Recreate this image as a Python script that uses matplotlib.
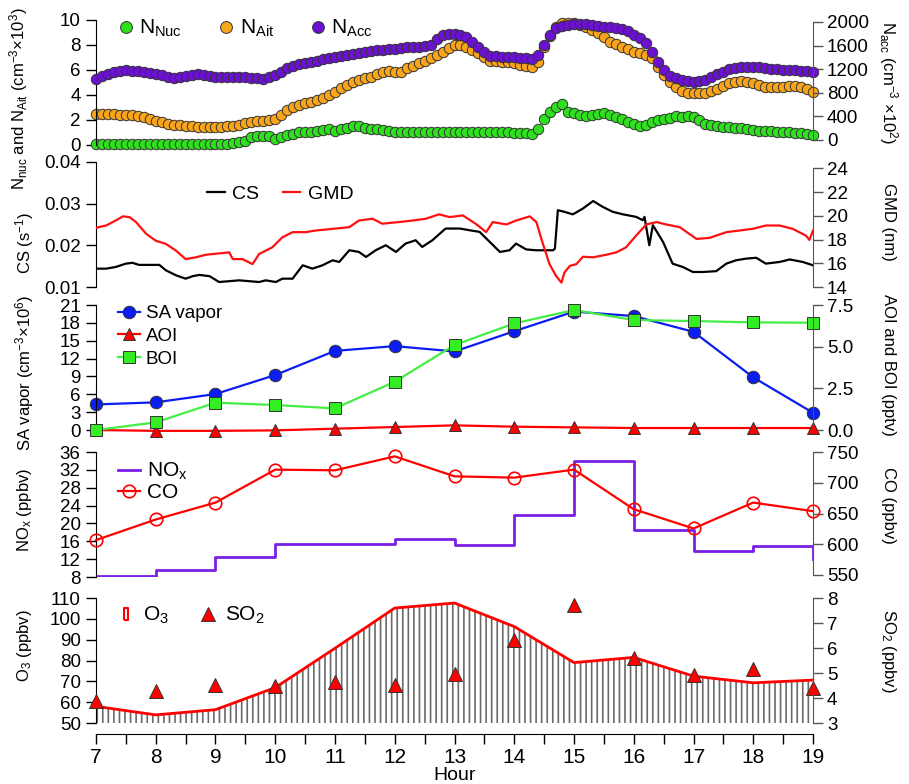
import numpy as np
import matplotlib
matplotlib.use('Agg')
import matplotlib.pyplot as plt
from matplotlib.lines import Line2D
from matplotlib.ticker import FormatStrFormatter, MultipleLocator

plt.rcParams['font.family'] = ['Liberation Sans', 'DejaVu Sans']
plt.rcParams['mathtext.default'] = 'regular'
plt.rcParams['hatch.linewidth'] = 1.2

# ---- panel 1: number concentrations, 6-min time base ----
hour_sd = np.arange(70, 191) / 10

n_nuc = [
    0.05, 0.05, 0.05, 0.05, 0.05, 0.05, 0.05, 0.05, 0.05, 0.05,
    0.05, 0.05, 0.05, 0.05, 0.05, 0.05, 0.06, 0.06, 0.06, 0.06,
    0.07, 0.08, 0.10, 0.13, 0.20, 0.35, 0.60, 0.70, 0.72, 0.70,
    0.50, 0.60, 0.80, 0.90, 1.00, 1.05, 1.05, 1.15, 1.20, 1.30,
    1.10, 1.25, 1.35, 1.50, 1.55, 1.35, 1.30, 1.30, 1.20, 1.10,
    1.05, 1.00, 1.00, 1.00, 1.05, 1.05, 1.05, 1.00, 1.00, 1.00,
    1.00, 1.00, 1.05, 1.05, 1.05, 1.00, 1.00, 1.00, 1.00, 1.00,
    0.95, 0.95, 0.93, 0.90, 1.30, 2.10, 2.65, 3.00, 3.25, 2.65,
    2.53, 2.40, 2.30, 2.40, 2.48, 2.53, 2.40, 2.27, 2.05, 1.87,
    1.68, 1.52, 1.60, 1.87, 2.00, 2.05, 2.13, 2.32, 2.21, 2.32,
    2.21, 2.00, 1.68, 1.60, 1.52, 1.47, 1.41, 1.39, 1.33, 1.28,
    1.20, 1.15, 1.12, 1.10, 1.07, 1.03, 1.00, 0.97, 0.93, 0.88,
    0.82]

n_ait = [
    2.48, 2.47, 2.45, 2.44, 2.42, 2.40, 2.38, 2.35, 2.25, 2.10,
    1.95, 1.80, 1.68, 1.62, 1.57, 1.52, 1.50, 1.47, 1.45, 1.43,
    1.41, 1.45, 1.50, 1.55, 1.62, 1.73, 1.80, 1.88, 1.95, 2.00,
    2.05, 2.40, 2.80, 3.00, 3.20, 3.32, 3.44, 3.58, 3.73, 4.00,
    4.27, 4.55, 4.80, 5.00, 5.20, 5.35, 5.47, 5.67, 5.87, 5.95,
    5.87, 5.87, 6.13, 6.33, 6.53, 6.73, 6.93, 7.20, 7.47, 7.75,
    8.00, 8.00, 7.87, 7.60, 7.33, 7.00, 6.75, 6.70, 6.67, 6.60,
    6.53, 6.42, 6.32, 6.27, 6.67, 7.87, 8.72, 9.47, 9.73, 9.73,
    9.73, 9.60, 9.47, 9.20, 8.93, 8.60, 8.27, 8.07, 7.87, 7.67,
    7.47, 7.33, 7.20, 6.93, 6.27, 5.60, 5.07, 4.61, 4.35, 4.19,
    4.13, 4.15, 4.19, 4.30, 4.45, 4.70, 4.93, 5.05, 5.15, 5.05,
    4.93, 4.80, 4.67, 4.63, 4.61, 4.66, 4.72, 4.68, 4.61, 4.45,
    4.27]

n_acc = [
    1034, 1079, 1124, 1158, 1172, 1181, 1176, 1164, 1150, 1135,
    1119, 1095, 1065, 1045, 1065, 1085, 1100, 1113, 1100, 1085,
    1074, 1070, 1068, 1065, 1062, 1062, 1058, 1050, 1040, 1060,
    1102, 1158, 1215, 1255, 1288, 1310, 1328, 1345, 1367, 1385,
    1401, 1420, 1441, 1460, 1480, 1495, 1509, 1518, 1526, 1537,
    1548, 1562, 1576, 1580, 1582, 1595, 1610, 1706, 1774, 1797,
    1791, 1780, 1740, 1667, 1582, 1497, 1424, 1418, 1413, 1407,
    1401, 1392, 1384, 1367, 1441, 1610, 1780, 1893, 1938, 1952,
    1961, 1961, 1961, 1948, 1932, 1920, 1910, 1893, 1876, 1853,
    1780, 1723, 1638, 1497, 1328, 1186, 1085, 1045, 1017, 1000,
    989, 995, 1017, 1065, 1119, 1160, 1198, 1225, 1243, 1245,
    1243, 1230, 1215, 1205, 1198, 1192, 1186, 1178, 1170, 1164,
    1158]

# ---- panel 2: condensation sink and GMD ----
cs_hour = [7.0, 7.17, 7.33, 7.5, 7.61, 7.72, 7.89, 8.06, 8.17, 8.34, 8.5, 8.62, 8.73, 8.9,
           9.06, 9.23, 9.4, 9.56, 9.73, 9.84, 10.01, 10.12, 10.29, 10.46, 10.62, 10.79,
           10.96, 11.07, 11.24, 11.4, 11.52, 11.68, 11.85, 12.02, 12.18, 12.35, 12.46,
           12.63, 12.85, 13.02, 13.09, 13.25, 13.42, 13.59, 13.76, 13.92, 14.03, 14.2,
           14.37, 14.48, 14.65, 14.68, 14.73, 14.84, 14.98, 15.15, 15.32, 15.48, 15.65,
           15.82, 16.04, 16.15, 16.18, 16.26, 16.32, 16.49, 16.65, 16.82, 16.99, 17.16,
           17.38, 17.55, 17.71, 17.88, 18.05, 18.21, 18.44, 18.61, 18.83, 19.0]
cs = [0.0144, 0.0144, 0.0148, 0.0156, 0.0158, 0.0153, 0.0153, 0.0153, 0.0140, 0.0128,
      0.0120, 0.0126, 0.0129, 0.0126, 0.0112, 0.0114, 0.0116, 0.0114, 0.0112, 0.0116,
      0.0112, 0.0120, 0.0120, 0.0152, 0.0144, 0.0152, 0.0164, 0.0160, 0.0188, 0.0184,
      0.0172, 0.0188, 0.0200, 0.0184, 0.0204, 0.0212, 0.0196, 0.0212, 0.0240, 0.0240,
      0.0240, 0.0236, 0.0232, 0.0208, 0.0184, 0.0188, 0.0204, 0.0190, 0.0188, 0.0188,
      0.0188, 0.0192, 0.0284, 0.0280, 0.0274, 0.0288, 0.0306, 0.0292, 0.0280, 0.0274,
      0.0268, 0.0260, 0.0268, 0.0200, 0.0248, 0.0208, 0.0156, 0.0148, 0.0136, 0.0136,
      0.0138, 0.0156, 0.0164, 0.0168, 0.0170, 0.0156, 0.0160, 0.0166, 0.0160, 0.0152]

gmd_hour = [7.0, 7.17, 7.33, 7.45, 7.56, 7.67, 7.84, 8.0, 8.17, 8.34, 8.5, 8.67, 8.84, 9.06,
            9.23, 9.29, 9.45, 9.62, 9.73, 9.84, 9.95, 10.12, 10.29, 10.51, 10.68, 10.96,
            11.24, 11.4, 11.63, 11.79, 12.07, 12.3, 12.52, 12.74, 12.92, 13.14, 13.37,
            13.53, 13.64, 13.87, 14.03, 14.26, 14.37, 14.48, 14.59, 14.7, 14.79, 14.84,
            14.93, 15.04, 15.15, 15.32, 15.54, 15.71, 15.87, 16.04, 16.21, 16.38, 16.54,
            16.77, 17.05, 17.27, 17.55, 17.77, 17.99, 18.21, 18.44, 18.66, 18.88, 18.94, 19.0]
gmd = [18.99, 19.18, 19.6, 19.95, 19.89, 19.47, 18.48, 17.9, 17.63, 17.06, 16.35, 16.5,
       16.72, 16.83, 16.92, 16.35, 16.35, 15.93, 16.78, 17.06, 17.34, 18.19, 18.62, 18.62,
       18.76, 18.9, 19.04, 19.6, 19.75, 19.33, 19.47, 19.6, 19.75, 20.12, 19.89, 20.03,
       19.27, 18.62, 19.47, 19.27, 19.6, 19.95, 19.47, 17.63, 15.93, 14.93, 14.37, 15.22,
       15.78, 15.93, 16.55, 16.5, 16.72, 16.92, 17.34, 18.33, 19.27, 19.47, 19.27, 19.04,
       18.05, 18.14, 18.62, 18.76, 18.9, 19.18, 19.18, 18.9, 18.33, 17.97, 18.76]

# ---- panels 3-5: hourly data ----
hours = [7, 8, 9, 10, 11, 12, 13, 14, 15, 16, 17, 18, 19]
sa_vapor = [4.3, 4.65, 6.05, 9.24, 13.3, 14.1, 13.2, 16.6, 19.9, 19.15, 16.5, 8.85, 2.9]
aoi = [0.0, -0.05, -0.05, -0.02, 0.08, 0.18, 0.28, 0.2, 0.16, 0.12, 0.12, 0.12, 0.12]
boi = [0.0, 0.46, 1.64, 1.5, 1.3, 2.9, 5.1, 6.4, 7.2, 6.6, 6.54, 6.46, 6.44]
nox = [8.2, 9.5, 12.5, 15.5, 15.3, 16.6, 15.1, 21.8, 34.0, 18.5, 13.8, 14.9, 12.1]
co = [606.8, 640.3, 667.8, 721.4, 720.3, 743.0, 710.5, 708.4, 721.4, 657.0, 625.7, 667.8, 653.8]
o3 = [58.0, 53.9, 56.4, 67.0, 85.9, 105.2, 107.6, 96.3, 79.0, 81.5, 72.5, 69.3, 70.6]
so2 = [3.88, 4.29, 4.51, 4.47, 4.65, 4.54, 4.96, 6.32, 7.73, 5.59, 4.92, 5.18, 4.42]

GREEN = '#2ee01e'
ORANGE = '#f8a51c'
PURPLE = '#6c10d4'
EDGE = '#333333'
RGRAY = '#555555'

L, W = 0.1056, 0.7888
fig = plt.figure(figsize=(9.09, 7.84), dpi=100)
ax1 = fig.add_axes([L, 0.8151, W, 0.1594])
ax2 = fig.add_axes([L, 0.6339, W, 0.1598])
ax3 = fig.add_axes([L, 0.4515, W, 0.1594])
ax4 = fig.add_axes([L, 0.2640, W, 0.1594])
ax5 = fig.add_axes([L, 0.0778, W, 0.1594])
axes = [ax1, ax2, ax3, ax4, ax5]
twins = [ax.twinx() for ax in axes]


def setup(ax, tw):
    ax.set_xlim(7, 19)
    ax.patch.set_visible(False)
    for s in ['top', 'bottom', 'right']:
        ax.spines[s].set_visible(False)
    for s in ['top', 'bottom', 'left']:
        tw.spines[s].set_visible(False)
    tw.spines['right'].set_color(RGRAY)
    ax.tick_params(axis='x', bottom=False, labelbottom=False)
    ax.tick_params(axis='y', direction='out', length=7, width=1, labelsize=13.5, pad=4)
    tw.tick_params(axis='y', direction='out', length=7, width=1, color=RGRAY,
                   labelsize=13.5, pad=3)


for ax, tw in zip(axes, twins):
    setup(ax, tw)


def ylabels(ax, tw, left, right, ly, ry, lx=-0.1):
    ax.set_ylabel(left, fontsize=12, va='center')
    ax.yaxis.set_label_coords(lx, ly)
    tw.set_ylabel(right, fontsize=12, rotation=-90, va='center')
    tw.yaxis.set_label_coords(1.105, ry)


mk = dict(linestyle='none', marker='o', markersize=7.5, markeredgecolor=EDGE,
          markeredgewidth=0.7, clip_on=False)

# panel 1
ax1.plot(hour_sd, n_nuc, color=GREEN, markerfacecolor=GREEN, **mk)
ax1.plot(hour_sd, n_ait, color=ORANGE, markerfacecolor=ORANGE, **mk)
twins[0].plot(hour_sd, n_acc, color=PURPLE, markerfacecolor=PURPLE, **mk)
ax1.set_ylim(0, 10)
ax1.set_yticks(range(0, 11, 2))
twins[0].set_ylim(-84.7, 2034)
twins[0].set_yticks(range(0, 2001, 400))
twins[0].spines['right'].set_bounds(0, 2000)
ylabels(ax1, twins[0], 'N$_{nuc}$ and N$_{Ait}$ (cm$^{-3}$×10$^{3}$)',
        'N$_{acc}$ (cm$^{-3}$ ×10$^{2}$)', 0.37, 0.5, lx=-0.108)
h1 = [Line2D([], [], color=c, markerfacecolor=c, linestyle='none', marker='o',
             markersize=8.5, markeredgecolor=EDGE, markeredgewidth=0.7)
      for c in (GREEN, ORANGE, PURPLE)]
twins[0].legend(h1, ['N$_{Nuc}$', 'N$_{Ait}$', 'N$_{Acc}$'], ncol=3, frameon=False,
                loc='center left', bbox_to_anchor=(0.03, 0.93), fontsize=15,
                handlelength=0.8, handletextpad=0.25, columnspacing=1.7,
                borderpad=0, borderaxespad=0)

# panel 2
ax2.plot(cs_hour, cs, color='black', lw=1.6)
twins[1].plot(gmd_hour, gmd, color='#ff1010', lw=1.6)
ax2.set_ylim(0.01, 0.04)
ax2.set_yticks([0.01, 0.02, 0.03, 0.04])
twins[1].set_ylim(14, 24.55)
twins[1].set_yticks(range(14, 25, 2))
twins[1].spines['right'].set_bounds(14, 24)
ylabels(ax2, twins[1], 'CS (s$^{-1}$)', 'GMD (nm)', 0.35, 0.52)
h2 = [Line2D([], [], color='black', lw=1.6), Line2D([], [], color='#ff1010', lw=1.6)]
twins[1].legend(h2, ['CS', 'GMD'], ncol=2, frameon=False, loc='center left',
                bbox_to_anchor=(0.155, 0.74), fontsize=14, handlelength=0.9,
                handletextpad=0.4, columnspacing=1.2, borderpad=0, borderaxespad=0)

# panel 3
BLUE = '#0a1ef2'
RED = '#ff0000'
GSQ = '#33ee22'
ax3.plot(hours, sa_vapor, color=BLUE, lw=1.6, marker='o', markersize=9,
         markerfacecolor=BLUE, markeredgecolor=EDGE, markeredgewidth=0.7, clip_on=False)
twins[2].plot(hours, aoi, color=RED, lw=1.6, marker='^', markersize=8,
              markerfacecolor=RED, markeredgecolor=EDGE, markeredgewidth=0.7, clip_on=False)
twins[2].plot(hours, boi, color='#44ee44', lw=1.6, marker='s', markersize=8.5,
              markerfacecolor=GSQ, markeredgecolor=EDGE, markeredgewidth=0.7, clip_on=False)
ax3.set_ylim(0, 21)
ax3.set_yticks(range(0, 22, 3))
twins[2].set_ylim(0, 7.5)
twins[2].set_yticks([0, 2.5, 5, 7.5])
twins[2].yaxis.set_major_formatter(FormatStrFormatter('%.1f'))
ylabels(ax3, twins[2], 'SA vapor (cm$^{-3}$×10$^{6}$)', 'AOI and BOI (pptv)', 0.46, 0.52)
h3 = [Line2D([], [], color=BLUE, lw=1.6, marker='o', markersize=9, markerfacecolor=BLUE,
             markeredgecolor=EDGE, markeredgewidth=0.7),
      Line2D([], [], color=RED, lw=1.6, marker='^', markersize=8, markerfacecolor=RED,
             markeredgecolor=EDGE, markeredgewidth=0.7),
      Line2D([], [], color='#44ee44', lw=1.6, marker='s', markersize=8.5,
             markerfacecolor=GSQ, markeredgecolor=EDGE, markeredgewidth=0.7)]
twins[2].legend(h3, ['SA vapor', 'AOI', 'BOI'], frameon=False, loc='upper left',
                bbox_to_anchor=(0.03, 1.0), fontsize=13.5, handlelength=1.2,
                handletextpad=0.3, labelspacing=0.3, borderpad=0, borderaxespad=0)

# panel 4
NOXC = '#7a1fe6'
ax4.plot(hours, nox, color=NOXC, lw=2, drawstyle='steps-post')
twins[3].plot(hours, co, color=RED, lw=1.6, marker='o', markersize=9,
              markerfacecolor='none', markeredgecolor=RED, markeredgewidth=1.2,
              clip_on=False)
ax4.set_ylim(8, 36)
ax4.set_yticks(range(8, 37, 4))
twins[3].set_ylim(546.7, 750)
twins[3].set_yticks(range(550, 751, 50))
twins[3].spines['right'].set_bounds(550, 750)
ylabels(ax4, twins[3], 'NO$_{x}$ (ppbv)', 'CO (ppbv)', 0.54, 0.57)
h4 = [Line2D([], [], color=NOXC, lw=2),
      Line2D([], [], color=RED, lw=1.6, marker='o', markersize=9, markerfacecolor='none',
             markeredgecolor=RED, markeredgewidth=1.2)]
twins[3].legend(h4, ['NO$_{x}$', 'CO'], frameon=False, loc='upper left',
                bbox_to_anchor=(0.03, 0.93), fontsize=15, handlelength=1.1,
                handletextpad=0.3, labelspacing=0.05, borderpad=0, borderaxespad=0)

# panel 5
ax5.fill_between(hours, 50, o3, facecolor='none', edgecolor='#6a6a6a', hatch='|||',
                 linewidth=0, zorder=1)
ax5.plot(hours, o3, color=RED, lw=2, zorder=3)
twins[4].plot(hours, so2, linestyle='none', marker='^', markersize=9.5,
              markerfacecolor=RED, markeredgecolor=EDGE, markeredgewidth=0.7, clip_on=False)
ax5.set_ylim(50, 110)
ax5.set_yticks(range(50, 111, 10))
twins[4].set_ylim(3, 8)
twins[4].set_yticks(range(3, 9))
ylabels(ax5, twins[4], 'O$_{3}$ (ppbv)', 'SO$_{2}$ (ppbv)', 0.62, 0.58)
box = [(-0.35, -1), (0.35, -1), (0.35, 1), (-0.35, 1), (-0.35, -1)]
h5 = [Line2D([], [], linestyle='none', marker=box, markersize=9, markerfacecolor='white',
             markeredgecolor=RED, markeredgewidth=1.5),
      Line2D([], [], linestyle='none', marker='^', markersize=9.5, markerfacecolor=RED,
             markeredgecolor=EDGE, markeredgewidth=0.7)]
twins[4].legend(h5, ['O$_{3}$', 'SO$_{2}$'], ncol=2, frameon=False, loc='center left',
                bbox_to_anchor=(0.03, 0.86), fontsize=15, handlelength=0.8,
                handletextpad=0.4, columnspacing=1.5, borderpad=0, borderaxespad=0)

# shared hour axis at the bottom
ax5.spines['bottom'].set_visible(True)
ax5.spines['bottom'].set_position(('outward', 8))
ax5.set_xticks(hours)
ax5.xaxis.set_minor_locator(MultipleLocator(0.5))
ax5.tick_params(axis='x', which='both', bottom=True, labelbottom=True, direction='out',
                length=7, width=1, labelsize=15, pad=3)
fig.text(0.5, 0.0, 'Hour', ha='center', va='bottom', fontsize=14)

fig.savefig('out.png', dpi=100)
